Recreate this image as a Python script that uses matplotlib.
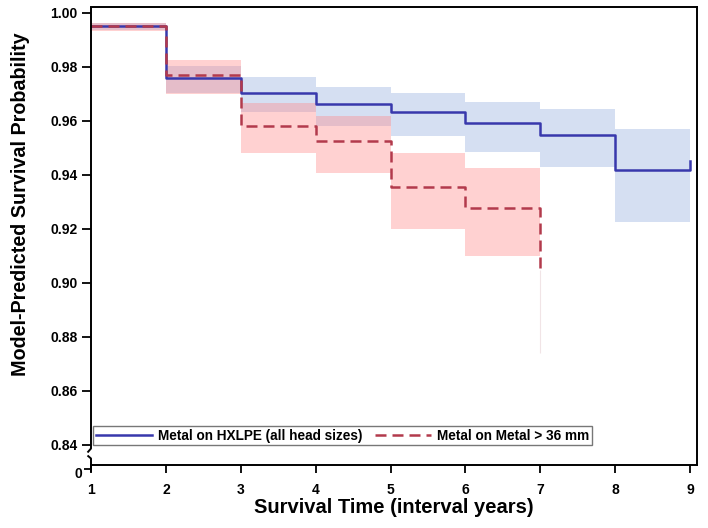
import numpy as np
import matplotlib
matplotlib.use("Agg")
import matplotlib.pyplot as plt
from matplotlib.lines import Line2D

plt.rcParams['font.family'] = ['Liberation Sans', 'DejaVu Sans']
plt.rcParams['font.weight'] = 'bold'

# ---------------- data ----------------
times_blue = [1, 2, 3, 4, 5, 6, 7, 8, 9]
surv_blue = [0.9950, 0.9760, 0.9704, 0.9662, 0.9632, 0.9591, 0.9548, 0.9420, 0.9450]
lo_blue = [0.9938, 0.9705, 0.9633, 0.9580, 0.9544, 0.9486, 0.9430, 0.9226]
hi_blue = [0.9962, 0.9805, 0.9763, 0.9727, 0.9705, 0.9672, 0.9643, 0.9570]

times_red = [1, 2, 3, 4, 5, 6, 7]
surv_red = [0.9950, 0.9770, 0.9581, 0.9526, 0.9355, 0.9279, 0.9048]
lo_red = [0.9935, 0.9700, 0.9480, 0.9407, 0.9200, 0.9100]
hi_red = [0.9963, 0.9826, 0.9667, 0.9619, 0.9483, 0.9425]
red_last_ci = [0.8740, 0.9048]

yticks = [0.84, 0.86, 0.88, 0.90, 0.92, 0.94, 0.96, 0.98, 1.00]
xticks = [1, 2, 3, 4, 5, 6, 7, 8, 9]
label_blue = "Metal on HXLPE (all head sizes)"
label_red = "Metal on Metal > 36 mm"

# ---------------- figure ----------------
W, H = 708, 528
fig = plt.figure(figsize=(W / 100, H / 100), dpi=100)
L, R, T, B = 91, 697, 7, 465
ax = fig.add_axes([L / W, 1 - B / H, (R - L) / W, (B - T) / H])

ppu = 2700.0  # pixels per probability unit
y_top = 1.00 + (13 - T) / ppu
y_bot = 0.84 - (B - 445) / ppu
ax.set_ylim(y_bot, y_top)
ax.set_xlim(1.0, 9 + (R - 690) / ((690 - L) / 8))

blue_line = '#3838ac'
red_line = '#b23a4c'

# confidence bands
xb = times_blue
ax.fill_between(xb, lo_blue + [lo_blue[-1]], hi_blue + [hi_blue[-1]], step='post',
                color='#9db3e2', alpha=0.42, linewidth=0, zorder=1)
xr = times_red
ax.fill_between(xr, lo_red + [lo_red[-1]], hi_red + [hi_red[-1]], step='post',
                color='#ff8c8c', alpha=0.40, linewidth=0, zorder=2)
ax.vlines(times_red[-1], red_last_ci[0], red_last_ci[1], color='#f1e4e6',
          linewidth=0.8, zorder=2)

# survival step lines
ax.step(times_blue, surv_blue, where='post', color=blue_line, linewidth=1.8,
        zorder=3, label=label_blue)
ax.step(times_red, surv_red, where='post', color=red_line, linewidth=1.8,
        linestyle=(0, (4.4, 2.4)), zorder=4, label=label_red)

# axes styling
for s in ['top', 'right', 'bottom']:
    ax.spines[s].set_linewidth(1.4)
ax.spines['left'].set_visible(False)

ax.set_yticks(yticks)
ax.set_yticklabels([f"{v:.2f}" for v in yticks])
ax.set_xticks(xticks)
ax.set_xticklabels([str(v) for v in xticks])
ax.tick_params(axis='y', direction='out', length=6.5, width=1.3, pad=3, labelsize=10)
ax.tick_params(axis='x', direction='out', length=6, width=1.3, pad=7, labelsize=10)

# manual left spine with axis break
def figpt(x, y):
    return (x / W, 1 - y / H)

def fig_line(pts, lw=1.4):
    xs = [p[0] / W for p in pts]
    ys = [1 - p[1] / H for p in pts]
    fig.add_artist(Line2D(xs, ys, color='black', linewidth=lw,
                          transform=fig.transFigure, solid_capstyle='butt'))

fig_line([(L, T), (L, 448.5), (87.5, 452.5)])
fig_line([(87.5, 455.5), (L, 458.5), (L, 472)])
fig_line([(L - 7, 468.5), (L, 468.5)], lw=1.3)
fig.text(*figpt(82, 474), "0", ha='right', va='center', fontsize=10, fontweight='bold')

# labels
ax.set_xlabel("Survival Time (interval years)", fontsize=14.5, fontweight='bold', labelpad=1)
ax.set_ylabel("Model-Predicted Survival Probability", fontsize=14.2, fontweight='bold')
ax.yaxis.set_label_coords((30 - L) / (R - L), (B - 204) / (B - T))

leg = ax.legend(loc='lower left', bbox_to_anchor=(0.004, 0.043), ncol=2,
                fontsize=9.8, frameon=True, fancybox=False, edgecolor='#555555',
                handlelength=4.1, handletextpad=0.45, columnspacing=0.9,
                borderpad=0.2, borderaxespad=0.0)
leg.get_frame().set_linewidth(1.0)

fig.savefig("out.png", dpi=100)
